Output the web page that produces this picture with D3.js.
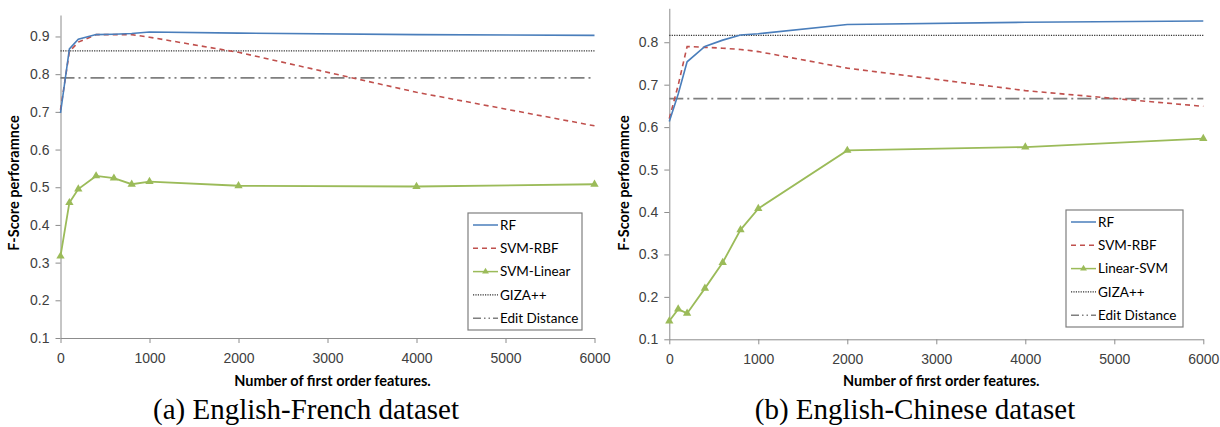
<!DOCTYPE html>
<html>
<head>
<meta charset="utf-8">
<script src="https://cdn.jsdelivr.net/npm/d3@7"></script>
<style>
  body { margin: 0; background: #fff; }
  svg { display: block; font-family: Lato, 'Open Sans', sans-serif; }
  .tick text { fill: #404040; font-size: 14px; }
  .domain, .tick line { stroke: #8c8c8c; }
</style>
</head>
<body>
<svg id="chart" width="1220" height="427"></svg>
<script>
// shared x positions (number of first order features)
const features = [0, 100, 200, 400, 600, 800, 1000, 2000, 4000, 6000];
const xTicks = [0, 1000, 2000, 3000, 4000, 5000, 6000];

// (a) English-French
const frYTicks = [0.1, 0.2, 0.3, 0.4, 0.5, 0.6, 0.7, 0.8, 0.9];
const frRF = [0.697, 0.867, 0.893, 0.905, 0.906, 0.908, 0.912, 0.909, 0.905, 0.903];
const frRBF = [0.705, 0.86, 0.885, 0.905, 0.905, 0.905, 0.898, 0.858, 0.752, 0.663];
const frLinear = [0.317, 0.459, 0.495, 0.53, 0.524, 0.508, 0.515, 0.504, 0.502, 0.508];
const frGiza = 0.862;
const frEdit = 0.79;
const frLabels = ['RF', 'SVM-RBF', 'SVM-Linear', 'GIZA++', 'Edit Distance'];

// (b) English-Chinese
const zhYTicks = [0.1, 0.2, 0.3, 0.4, 0.5, 0.6, 0.7, 0.8];
const zhRF = [0.613, 0.678, 0.754, 0.79, 0.805, 0.817, 0.82, 0.842, 0.847, 0.85];
const zhRBF = [0.62, 0.699, 0.79, 0.788, 0.786, 0.783, 0.778, 0.739, 0.686, 0.649];
const zhLinear = [0.143, 0.171, 0.161, 0.22, 0.281, 0.358, 0.408, 0.545, 0.553, 0.573];
const zhGiza = 0.816;
const zhEdit = 0.667;
const zhLabels = ['RF', 'SVM-RBF', 'Linear-SVM', 'GIZA++', 'Edit Distance'];

const svg = d3.select('#chart');

const styles = [
  { color: '#4a7ebb', dash: null },
  { color: '#c0504d', dash: '5,4' },
  { color: '#9bbb59', dash: null, marker: true },
  { color: '#333', dash: '1.2,1.2' },
  { color: '#7f7f7f', dash: null }
];

function drawPanel(cfg) {
  const x = d3.scaleLinear().domain([0, 6000]).range(cfg.xRange);
  const y = d3.scaleLinear().domain([0.1, cfg.yMax]).range(cfg.yRange);
  const g = svg.append('g');

  g.append('g')
    .attr('transform', `translate(0,${cfg.yRange[0]})`)
    .call(d3.axisBottom(x).tickValues(xTicks).tickSize(5).tickSizeOuter(0).tickPadding(7)
      .tickFormat(d3.format('d')))
    .call((a) => a.selectAll('.tick text').attr('dy', '0.9em'));

  g.append('g')
    .attr('transform', `translate(${cfg.xRange[0]},0)`)
    .call(d3.axisLeft(y).tickValues(cfg.yTicks).tickSize(5).tickSizeOuter(0).tickPadding(6)
      .tickFormat(d3.format('.1f')));

  const line = d3.line().x((d, i) => x(features[i])).y((d) => y(d));
  const flat = (v) => [[0, v], [6000, v]];
  const hline = d3.line().x((d) => x(d[0])).y((d) => y(d[1]));

  // reference lines first
  g.append('path').attr('d', hline(flat(cfg.giza)))
    .attr('fill', 'none').attr('stroke', '#333').attr('stroke-width', 1.2).attr('stroke-dasharray', '1.2,1.2');
  g.append('path').attr('d', hline(flat(cfg.edit)))
    .attr('fill', 'none').attr('stroke', '#7f7f7f').attr('stroke-width', 1.8).attr('stroke-dasharray', cfg.editDash);

  g.append('path').attr('d', line(cfg.linear))
    .attr('fill', 'none').attr('stroke', styles[2].color).attr('stroke-width', 1.8);
  g.selectAll('.tri').data(cfg.linear).join('path')
    .attr('transform', (d, i) => `translate(${x(features[i])},${y(d)})`)
    .attr('d', d3.symbol(d3.symbolTriangle, 30))
    .attr('fill', styles[2].color);

  g.append('path').attr('d', line(cfg.rbf))
    .attr('fill', 'none').attr('stroke', styles[1].color).attr('stroke-width', 1.6).attr('stroke-dasharray', '5,4');
  g.append('path').attr('d', line(cfg.rf))
    .attr('fill', 'none').attr('stroke', styles[0].color).attr('stroke-width', 1.6);

  // axis titles
  const midX = (cfg.xRange[0] + cfg.xRange[1]) / 2 + 5;
  g.append('text').attr('x', midX).attr('y', 386).attr('text-anchor', 'middle')
    .attr('font-size', 14.5).attr('font-weight', 'bold').attr('fill', '#000')
    .text('Number of first order features.');
  g.append('text').attr('transform', `translate(${cfg.yTitleX},183) rotate(-90)`)
    .attr('text-anchor', 'middle').attr('font-size', 14.5).attr('font-weight', 'bold').attr('fill', '#000')
    .text('F-Score perforamnce');

  g.append('text').attr('x', cfg.captionX).attr('y', 419).attr('text-anchor', 'middle')
    .attr('font-family', "'Liberation Serif', serif").attr('font-size', 29).attr('fill', '#000')
    .text(cfg.caption);

  // legend
  const lg = g.append('g').attr('transform', `translate(${cfg.legend[0]},${cfg.legend[1]})`);
  lg.append('rect').attr('width', cfg.legend[2]).attr('height', 117)
    .attr('fill', '#fff').attr('stroke', '#7f7f7f').attr('stroke-width', 1.2);
  cfg.labels.forEach((label, i) => {
    const ly = 12 + i * 23.3;
    const s = styles[i];
    const dash = i === 4 ? '8,3,1.5,3,1.5,3' : s.dash;
    lg.append('line').attr('x1', 5).attr('x2', 30).attr('y1', ly).attr('y2', ly)
      .attr('stroke', s.color).attr('stroke-width', i === 3 ? 1.2 : 1.5)
      .attr('stroke-dasharray', dash);
    if (s.marker) {
      lg.append('path').attr('transform', `translate(17.5,${ly})`)
        .attr('d', d3.symbol(d3.symbolTriangle, 20)).attr('fill', s.color);
    }
    lg.append('text').attr('x', 32).attr('y', ly).attr('dy', '0.35em')
      .attr('font-size', 13.5).attr('fill', '#000').text(label);
  });
}

drawPanel({
  xRange: [60.5, 594.5], yRange: [338, 15], yMax: 0.957, yTicks: frYTicks,
  rf: frRF, rbf: frRBF, linear: frLinear, giza: frGiza, edit: frEdit,
  editDash: '14,4,2,4,2,4', labels: frLabels, legend: [468, 213, 114],
  yTitleX: 19, captionX: 306, caption: '(a) English-French dataset'
});

drawPanel({
  xRange: [669.3, 1203.3], yRange: [339.3, 8.3], yMax: 0.88, yTicks: zhYTicks,
  rf: zhRF, rbf: zhRBF, linear: zhLinear, giza: zhGiza, edit: zhEdit,
  editDash: '14,4,2,4', labels: zhLabels, legend: [1066, 210, 117],
  yTitleX: 629, captionX: 915, caption: '(b) English-Chinese dataset'
});
</script>
</body>
</html>
